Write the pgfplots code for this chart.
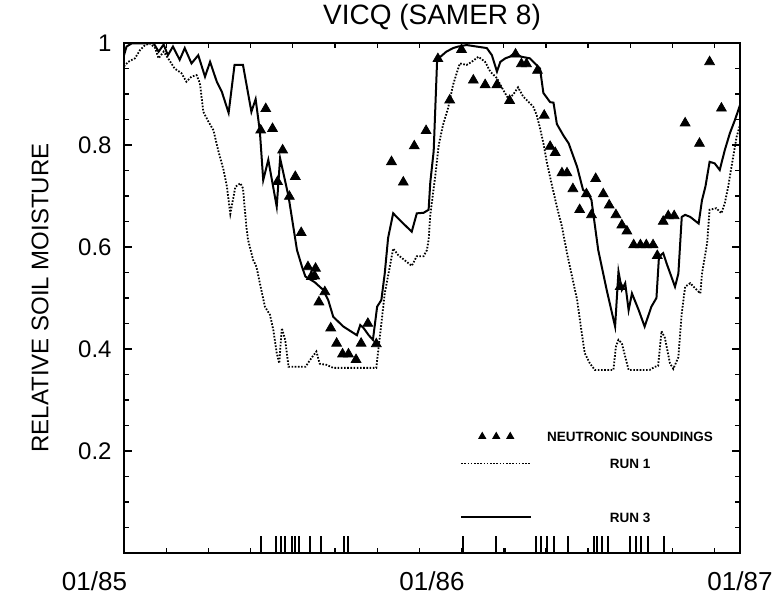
\documentclass[border=0pt]{standalone}
\usepackage{fontspec}
\setmainfont{Liberation Sans}
\usepackage{pgfplots}
\pgfplotsset{compat=1.18}

\newcommand{\lf}{\fontsize{12}{14.4}\selectfont}
\newcommand{\xf}{\fontsize{13}{15.6}\selectfont}
\newcommand{\tf}{\fontsize{14}{16.8}\selectfont}
\newcommand{\legf}{\fontsize{6.75}{8}\selectfont\bfseries}

\begin{document}
\begin{tikzpicture}
\path[use as bounding box] (-62pt,-22.5pt) rectangle (324pt,276.5pt);
\begin{axis}[
    at={(0,0)}, anchor=south west,
    scale only axis, width=308pt, height=255pt,
    xmin=0, xmax=730, ymin=0, ymax=1,
    axis line style={line width=0.9pt},
    xtick={0,365,730},
    xticklabels={\hspace*{-29.5pt}01/85,01/86,01/87},
    minor xtick={50,100,...,700},
    ytick={0.2,0.4,0.6,0.8,1},
    yticklabels={0.2,0.4,0.6,0.8,1},
    minor ytick={0.05,0.1,...,0.95},
    major tick length=4pt, minor tick length=2.5pt,
    major x tick style={draw=none},
    tick style={line width=0.6pt, black},
    /pgf/number format/assume math mode=true,
    xticklabel style={font=\xf, yshift=-6pt},
    yticklabel style={font=\lf, xshift=-2.7pt},
    title={VICQ (SAMER 8)},
    title style={font=\tf, at={(0.5,1)}, anchor=base, yshift=3pt},
    ylabel={RELATIVE SOIL MOISTURE},
    ylabel style={font=\lf, at={(0,0.5)}, anchor=center, yshift=42pt},
    legend style={at={(axis cs:398,0.243)}, anchor=north west, draw=none, fill=none,
        inner sep=0pt, font=\legf, row sep=6.5pt, column sep=6.5pt,
        nodes={inner sep=1pt, text height=5pt, text depth=0pt}},
    legend cell align=center,
]

% RUN 1 (dotted)
\addplot[black, line width=0.9pt, dash pattern=on 0.8pt off 0.8pt, forget plot] coordinates {
(0,0.954)(5,0.963)(13,0.970)(19,0.986)(25,0.996)(31,0.999)(37,0.990)(41,0.970)(47,0.983)
(55,0.963)(60,0.950)(68,0.941)(74,0.924)(80,0.934)(86,0.937)(90,0.921)(94,0.865)(100,0.846)
(106,0.829)(112,0.787)(118,0.751)(122,0.718)(126,0.665)(132,0.718)(138,0.725)(141,0.715)
(145,0.640)(147,0.614)(153,0.575)(157,0.561)(161,0.529)(167,0.483)(173,0.467)(177,0.437)
(181,0.392)(184,0.372)(187,0.441)(191,0.418)(195,0.365)(215,0.365)(222,0.382)(228,0.395)
(232,0.371)(240,0.369)(248,0.363)(299,0.363)(300,0.378)(305,0.450)(309,0.509)(315,0.561)
(319,0.597)(325,0.584)(341,0.563)(347,0.582)(355,0.582)(359,0.594)(361,0.614)(363,0.663)
(369,0.741)(373,0.800)(378,0.839)(384,0.872)(390,0.918)(396,0.950)(398,0.960)(406,0.957)
(412,0.963)(420,0.973)(428,0.963)(434,0.944)(442,0.931)(448,0.912)(455,0.892)(461,0.898)
(467,0.913)(473,0.895)(481,0.882)(485,0.875)(489,0.859)(493,0.833)(497,0.804)(501,0.767)
(507,0.722)(513,0.679)(519,0.640)(525,0.588)(531,0.542)(537,0.496)(542,0.437)(546,0.392)
(552,0.372)(558,0.359)(580,0.359)(583,0.405)(586,0.418)(590,0.411)(594,0.385)(598,0.359)
(623,0.359)(629,0.365)(633,0.367)(637,0.435)(641,0.422)(647,0.372)(651,0.361)(657,0.384)
(661,0.470)(665,0.522)(671,0.529)(683,0.509)(685,0.548)(691,0.607)(694,0.673)(702,0.676)
(708,0.666)(712,0.686)(716,0.718)(720,0.758)(726,0.816)(730,0.839)
};

% RUN 3 (solid)
\addplot[black, line width=1pt, forget plot] coordinates {
(0,0.976)(3,0.993)(9,0.999)(27,0.999)(35,1.0)(41,0.983)(47,0.997)(52,0.976)(58,0.993)
(66,0.967)(72,0.990)(80,0.960)(88,0.976)(96,0.934)(102,0.963)(110,0.924)(116,0.904)
(124,0.863)(131,0.957)(141,0.957)(151,0.865)(156,0.890)(161,0.827)(165,0.731)(171,0.771)
(181,0.679)(185,0.774)(195,0.699)(205,0.594)(211,0.561)(215,0.542)(226,0.531)(236,0.516)
(242,0.496)(248,0.463)(260,0.444)(276,0.427)(280,0.447)(284,0.441)(290,0.427)(295,0.418)
(300,0.483)(305,0.496)(309,0.548)(313,0.618)(319,0.666)(331,0.646)(341,0.630)(347,0.666)
(355,0.667)(361,0.673)(363,0.727)(367,0.788)(371,0.963)(375,0.973)(382,0.983)(390,0.990)
(396,0.993)(406,0.996)(418,0.993)(430,0.990)(436,0.976)(442,0.944)(446,0.963)(452,0.970)
(457,0.973)(463,0.980)(471,0.973)(481,0.970)(487,0.960)(493,0.950)(497,0.902)(505,0.884)
(509,0.883)(513,0.841)(521,0.818)(527,0.803)(537,0.757)(544,0.712)(550,0.705)(554,0.692)
(562,0.594)(572,0.516)(582,0.444)(586,0.552)(590,0.516)(594,0.529)(598,0.476)(602,0.509)
(610,0.476)(617,0.444)(625,0.483)(631,0.500)(634,0.581)(639,0.588)(643,0.568)(653,0.522)
(657,0.548)(661,0.659)(665,0.663)(671,0.659)(681,0.646)(685,0.692)(689,0.718)(694,0.767)
(700,0.764)(706,0.751)(712,0.790)(718,0.823)(724,0.849)(730,0.878)
};

% neutronic soundings
\addplot[only marks, mark=triangle*, mark size=2.8pt, black, forget plot] coordinates {
(162,0.829)(168,0.871)(176,0.832)(182,0.728)(188,0.790)(196,0.699)(203,0.738)(210,0.628)
(218,0.561)(227,0.558)(222,0.542)(226,0.543)(231,0.492)(238,0.512)(245,0.441)(252,0.411)
(259,0.390)(266,0.390)(275,0.379)(281,0.411)(289,0.450)(299,0.410)(317,0.767)(331,0.727)
(344,0.798)(358,0.828)(372,0.969)(386,0.888)(400,0.987)(414,0.927)(428,0.918)(442,0.918)
(457,0.887)(464,0.978)(471,0.959)(477,0.959)(490,0.946)(498,0.858)(505,0.797)(511,0.785)
(519,0.745)(525,0.745)(532,0.714)(540,0.673)(548,0.704)(554,0.663)(559,0.734)(568,0.704)
(575,0.682)(583,0.663)(590,0.643)(596,0.631)(604,0.604)(612,0.604)(619,0.604)(627,0.604)
(632,0.583)(639,0.650)(645,0.661)(652,0.661)(665,0.843)(682,0.803)(694,0.963)(708,0.872)
(588,0.522)
};

% event bars along the bottom
\addplot[ycomb, black, line width=1pt, forget plot] coordinates {
(162,0.033)(180,0.033)(186,0.033)(191,0.033)(199,0.033)(203,0.033)(207,0.033)(221,0.033)
(233,0.033)(261,0.033)(266,0.033)(402,0.033)(441,0.033)(452,0.01)(488,0.033)(494,0.033)
(501,0.033)(509,0.033)(526,0.033)(557,0.033)(561,0.033)(566,0.033)(573,0.033)(600,0.033)
(607,0.033)(613,0.033)(621,0.033)(640,0.033)
};

\addlegendimage{legend image code/.code={
    \path[draw=none] (0pt,0pt) -- (35pt,0pt);
    \path[draw=none, fill=black] plot[only marks, mark=triangle*, mark size=2pt] coordinates {(10.5pt,0pt) (17.5pt,0pt) (24.5pt,0pt)};}}
\addlegendentry{NEUTRONIC SOUNDINGS}
\addlegendimage{legend image code/.code={
    \draw[black, line width=0.9pt, dash pattern=on 0.8pt off 0.8pt] (0pt,0pt) -- (35pt,0pt);}}
\addlegendentry{RUN 1}
\addlegendimage{empty legend}
\addlegendentry{}
\addlegendimage{legend image code/.code={
    \draw[black, line width=1pt] (0pt,0pt) -- (35pt,0pt);}}
\addlegendentry{RUN 3}
\end{axis}
\end{tikzpicture}
\end{document}
